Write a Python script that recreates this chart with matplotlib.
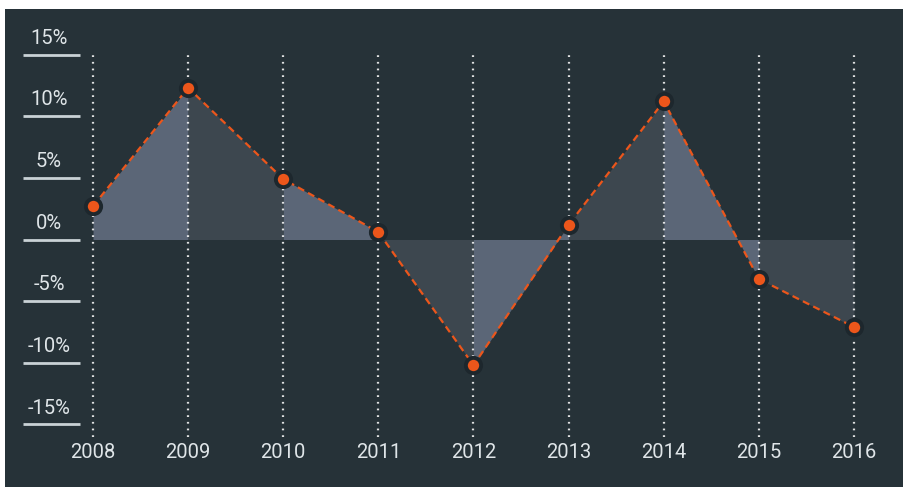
import numpy as np
import matplotlib
matplotlib.use("Agg")
import matplotlib.pyplot as plt
import matplotlib.transforms as mtransforms

# values (% change per year)
years = [2008, 2009, 2010, 2011, 2012, 2013, 2014, 2015, 2016]
values = [2.7, 12.3, 4.9, 0.6, -10.2, 1.2, 11.2, -3.2, -7.1]
yticks = [15, 10, 5, 0, -5, -10, -15]
ytick_labels = ["15%", "10%", "5%", "0%", "-5%", "-10%", "-15%"]

bg = "#263238"
fill_light = "#5b6677"
fill_dark = "#3d474f"
orange = "#ec561b"
halo = "#1d272d"
txt = "#dfe5e8"

plt.rcParams['font.family'] = ['Roboto', 'DejaVu Sans']

fig = plt.figure(figsize=(9.04, 4.87), dpi=100)
fig.patch.set_facecolor("white")

# dark panel behind everything
bgax = fig.add_axes([5 / 904, 0, 898 / 904, 478 / 487])
bgax.set_facecolor(bg)
bgax.set_xticks([])
bgax.set_yticks([])
for s in bgax.spines.values():
    s.set_visible(False)

ax = fig.add_axes([0, 0, 1, 1])
ax.patch.set_visible(False)
ax.set_xlim(2007.022, 2016.526)
ax.set_ylim((239.5 - 487) / 12.33, 239.5 / 12.33)
ax.axis("off")

# alternating fills between consecutive years
for i in range(len(years) - 1):
    c = fill_light if i % 2 == 0 else fill_dark
    ax.fill_between(years[i:i + 2], values[i:i + 2], 0, color=c,
                    linewidth=0, zorder=1)

# dotted vertical guides
ax.vlines(years, -16, 15, colors="white", alpha=0.85, linewidth=1.6,
          linestyles=(0, (0.8, 2.2)), zorder=2)

# dashed line and dots
ax.plot(years, values, color=orange, linewidth=1.6, dashes=(3.2, 2.0),
        zorder=3)
ax.plot(years, values, "o", markersize=11, color=orange,
        markeredgecolor=halo, markeredgewidth=2.8, zorder=4)

# y labels with underline
trans = mtransforms.blended_transform_factory(ax.transAxes, ax.transData)
for t, lab in zip(yticks, ytick_labels):
    ax.plot([23 / 904, 80 / 904], [t, t], color="#c9d2d6", linewidth=2,
            transform=trans, solid_capstyle="butt", zorder=2)
    ax.annotate(lab, (49 / 904, t), xycoords=trans, xytext=(0, 5),
                textcoords="offset points", ha="center", va="bottom",
                fontsize=14.5, color=txt)

# x labels
for yr in years:
    ax.annotate(str(yr), (yr, -16), xycoords="data", xytext=(0, -11),
                textcoords="offset points", ha="center", va="center",
                fontsize=14.5, color=txt)

fig.savefig("out.png", dpi=100, facecolor=fig.get_facecolor())
